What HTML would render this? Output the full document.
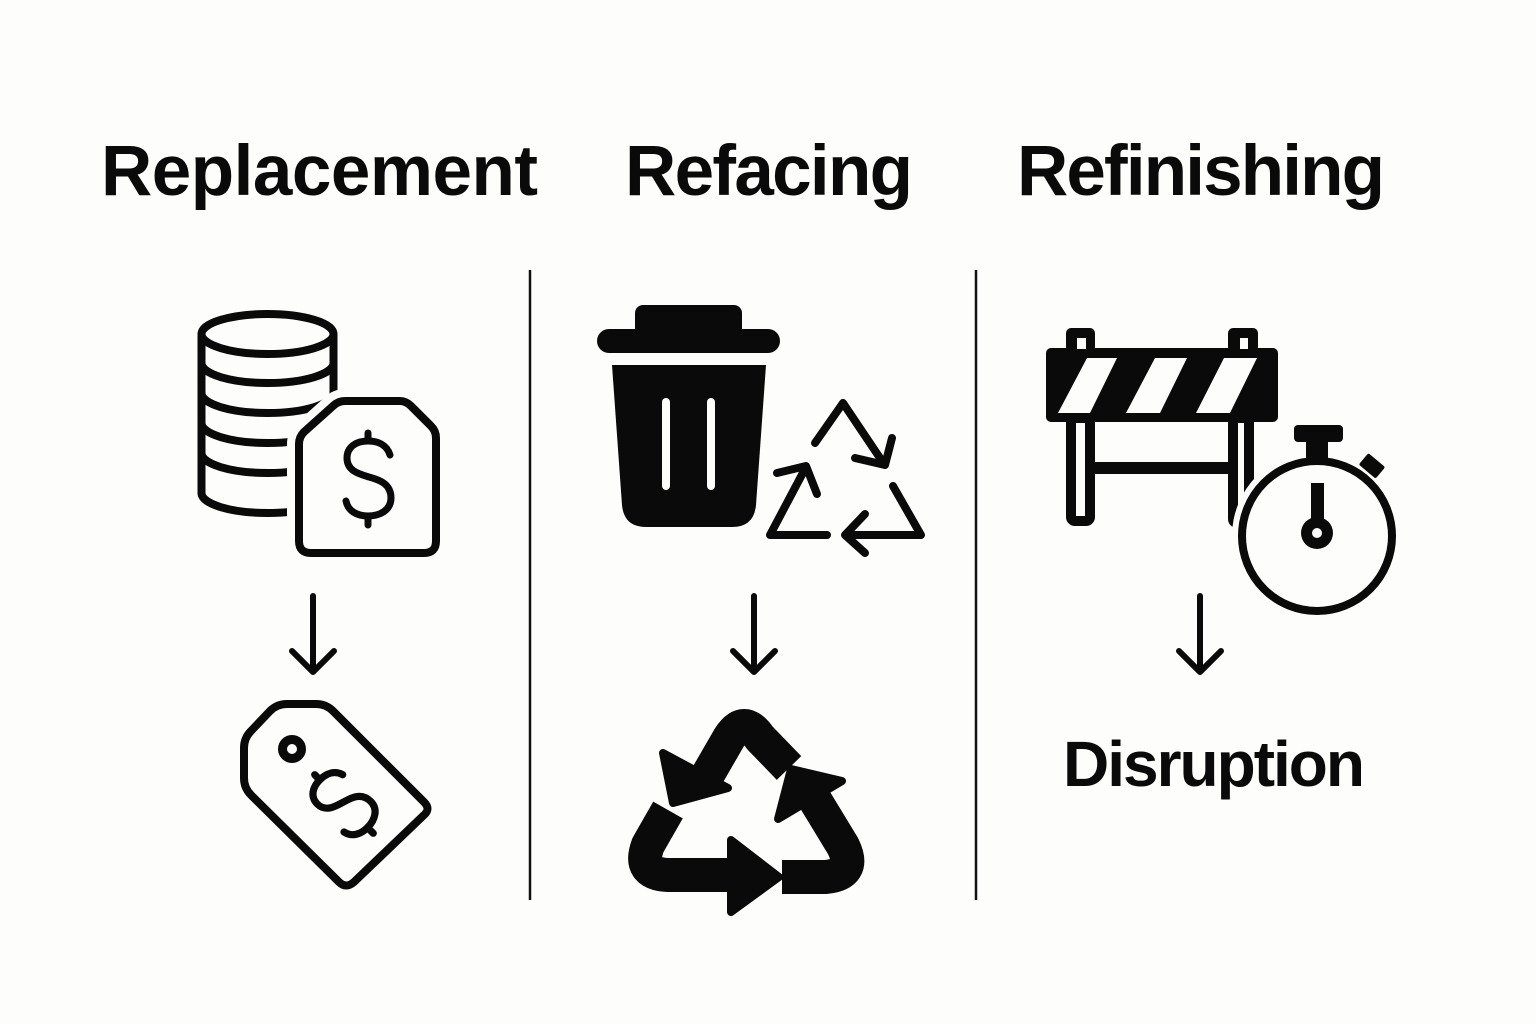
<!DOCTYPE html>
<html>
<head>
<meta charset="utf-8">
<style>
  html,body{margin:0;padding:0;background:#fdfdfb;}
  svg{display:block;}
  text{font-family:"Liberation Sans",Arial,sans-serif;font-weight:bold;fill:#0a0a0a;}
</style>
</head>
<body>
<svg width="1536" height="1024" viewBox="0 0 1536 1024" xmlns="http://www.w3.org/2000/svg">
  <rect x="0" y="0" width="1536" height="1024" fill="#fdfdfb"/>

  <!-- Titles -->
  <text x="101" y="195" font-size="71" textLength="437" lengthAdjust="spacing">Replacement</text>
  <text x="625" y="195" font-size="71" textLength="288" lengthAdjust="spacing">Refacing</text>
  <text x="1017" y="195" font-size="71" textLength="368" lengthAdjust="spacing">Refinishing</text>

  <!-- Dividers -->
  <line x1="530" y1="270" x2="530" y2="900" stroke="#111" stroke-width="2.5"/>
  <line x1="976" y1="270" x2="976" y2="900" stroke="#111" stroke-width="2.5"/>

  <!-- Down arrows -->
  <g stroke="#0a0a0a" stroke-width="6" fill="none" stroke-linecap="round" stroke-linejoin="round">
    <path d="M313,596 L313,671 M292,651 L313,672 L334,651"/>
    <path d="M754,596 L754,671 M733,651 L754,672 L775,651"/>
    <path d="M1200,596 L1200,671 M1179,651 L1200,672 L1221,651"/>
  </g>

  <!-- ===== Coins + $ tag ===== -->
  <g stroke="#0a0a0a" stroke-width="8" fill="none" stroke-linecap="round" stroke-linejoin="round">
    <ellipse cx="267.5" cy="334" rx="66" ry="20" fill="#fdfdfb"/>
    <line x1="201.5" y1="334" x2="201.5" y2="493"/>
    <line x1="333.5" y1="334" x2="333.5" y2="493"/>
    <path d="M201.5,363 A66,20 0 0 0 333.5,363"/>
    <path d="M201.5,393 A66,20 0 0 0 333.5,393"/>
    <path d="M201.5,423 A66,20 0 0 0 333.5,423"/>
    <path d="M201.5,453 A66,20 0 0 0 333.5,453"/>
    <path d="M201.5,493 A66,20 0 0 0 333.5,493"/>
  </g>
  <path d="M345,401 L400,401 Q406,401 411,406 L431,426 Q436,431 436,438 L436,541 Q436,553 424,553 L311,553 Q299,553 299,541 L299,444 Q299,437 304,432 L333,406 Q338,401 345,401 Z"
        fill="#fdfdfb" stroke="#fdfdfb" stroke-width="24" stroke-linejoin="round"/>
  <path d="M345,401 L400,401 Q406,401 411,406 L431,426 Q436,431 436,438 L436,541 Q436,553 424,553 L311,553 Q299,553 299,541 L299,444 Q299,437 304,432 L333,406 Q338,401 345,401 Z"
        fill="#fdfdfb" stroke="#0a0a0a" stroke-width="8" stroke-linejoin="round"/>
  <g stroke="#0a0a0a" stroke-width="7" fill="none" stroke-linecap="round" stroke-linejoin="round">
    <path d="M390,455 C387,445 378,441 368,441 C356,441 347,447 347,458 C347,471 359,474 369,477 C380,480 391,484 391,498 C391,510 380,516 368,516 C357,516 348,511 346,501"/>
    <line x1="368" y1="433" x2="368" y2="441"/>
    <line x1="368" y1="516" x2="368" y2="525"/>
  </g>

  <!-- ===== Rotated price tag ===== -->
  <path d="M287,704 L316,704 Q326,704 333,711 L424,802 Q431,809 424,815 L354,882 Q346,889 339,882 L251,795 Q244,788 244,778 L244,748 Q244,738 251,731 L270,711 Q277,704 287,704 Z"
        fill="none" stroke="#0a0a0a" stroke-width="8" stroke-linejoin="round"/>
  <circle cx="292" cy="749" r="9.5" fill="none" stroke="#0a0a0a" stroke-width="9"/>
  <g transform="translate(344,804) rotate(-45) scale(0.9) translate(-368,-479)" stroke="#0a0a0a" stroke-width="8" fill="none" stroke-linecap="round" stroke-linejoin="round">
    <path d="M390,455 C387,445 378,441 368,441 C356,441 347,447 347,458 C347,471 359,474 369,477 C380,480 391,484 391,498 C391,510 380,516 368,516 C357,516 348,511 346,501"/>
    <line x1="368" y1="433" x2="368" y2="441"/>
    <line x1="368" y1="516" x2="368" y2="525"/>
  </g>

  <!-- ===== Trash can ===== -->
  <g fill="#0a0a0a">
    <rect x="635" y="305" width="107" height="32" rx="8"/>
    <rect x="597" y="329" width="183" height="24" rx="12"/>
    <path d="M612,365 L766,365 L756,505 Q754,527 732,527 L646,527 Q624,527 622,505 Z"/>
  </g>
  <rect x="662" y="398" width="8" height="92" rx="4" fill="#fdfdfb"/>
  <rect x="707" y="398" width="8" height="92" rx="4" fill="#fdfdfb"/>

  <!-- small outline recycle -->
  <g stroke="#0a0a0a" stroke-width="8" fill="none" stroke-linecap="round" stroke-linejoin="round">
    <path d="M815,443 L843,403 L884,464"/>
    <path d="M855,458 L885,465 L892,438"/>
    <path d="M827,535 L770,535 L806,467"/>
    <path d="M777,473 L806,466 L817,494"/>
    <path d="M893,486 L921,535 L846,535"/>
    <path d="M865,514 L845,535 L865,553"/>
  </g>

  <!-- ===== Big solid recycle ===== -->
  <g fill="#0a0a0a" stroke="#0a0a0a" stroke-linejoin="round">
    <!-- top band -->
    <path d="M703,783 L729,738 Q744,714 760,738 L789,768" fill="none" stroke-width="34" stroke-linejoin="round"/>
    <polygon points="663,753 673,803 728,788" stroke-width="8"/>
    <!-- left/bottom band -->
    <path d="M668,810 L648,845 Q637,874 668,875 L745,875" fill="none" stroke-width="34"/>
    <polygon points="731,840 779,877 731,912" stroke-width="8"/>
    <!-- right band -->
    <path d="M782,877 L826,877 Q857,874 843,846 L812,795" fill="none" stroke-width="34"/>
    <polygon points="778,819 791,769 842,781" stroke-width="8"/>
  </g>

  <!-- ===== Barricade ===== -->
  <g fill="#0a0a0a">
    <rect x="1066" y="328" width="29" height="24" rx="5"/>
    <rect x="1228" y="328" width="30" height="24" rx="5"/>
    <rect x="1046" y="348" width="232" height="74" rx="5"/>
    <rect x="1090" y="462" width="142" height="12"/>
  </g>
  <rect x="1077" y="338" width="9" height="11" fill="#fdfdfb"/>
  <rect x="1240" y="338" width="8" height="11" fill="#fdfdfb"/>
  <g fill="#fdfdfb">
    <polygon points="1087,358 1117,358 1090,413 1058,413"/>
    <polygon points="1155,358 1187,358 1160,413 1126,413"/>
    <polygon points="1224,358 1257,358 1230,413 1196,413"/>
  </g>
  <rect x="1071" y="418" width="19" height="103" rx="4" fill="#fdfdfb" stroke="#0a0a0a" stroke-width="10"/>
  <rect x="1233" y="418" width="16" height="105" rx="4" fill="#fdfdfb" stroke="#0a0a0a" stroke-width="10"/>

  <!-- ===== Stopwatch ===== -->
  <circle cx="1317" cy="536" r="85" fill="#fdfdfb"/>
  <g fill="#0a0a0a">
    <rect x="1294" y="425" width="49" height="17" rx="4"/>
    <rect x="1306" y="440" width="22" height="20"/>
    <g transform="translate(1371,467) rotate(40)"><rect x="-11" y="-9" width="22" height="15" rx="2"/></g>
  </g>
  <circle cx="1317" cy="536" r="75" fill="#fdfdfb" stroke="#0a0a0a" stroke-width="8"/>
  <rect x="1311" y="483" width="13" height="42" fill="#0a0a0a"/>
  <circle cx="1317" cy="533" r="16" fill="#0a0a0a"/>
  <circle cx="1317" cy="533" r="5" fill="#fdfdfb"/>

  <!-- Disruption -->
  <text x="1063" y="786" font-size="64" textLength="302" lengthAdjust="spacing">Disruption</text>
</svg>
</body>
</html>
